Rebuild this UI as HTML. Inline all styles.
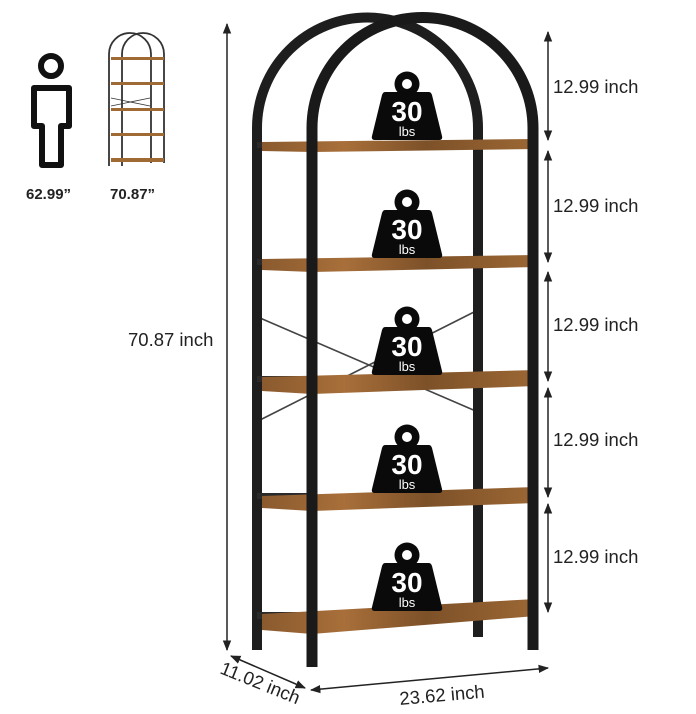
<!DOCTYPE html>
<html><head><meta charset="utf-8"><style>
html,body{margin:0;padding:0;background:#fff;}
svg{display:block;font-family:"Liberation Sans",sans-serif;}
</style></head><body>
<svg width="696" height="714" viewBox="0 0 696 714" xmlns="http://www.w3.org/2000/svg">
<defs>
<linearGradient id="wood" x1="0" y1="0" x2="1" y2="0">
<stop offset="0" stop-color="#8a5a2e"/><stop offset="0.3" stop-color="#a86f3a"/><stop offset="0.6" stop-color="#7d5128"/><stop offset="1" stop-color="#9c6734"/>
</linearGradient>
<marker id="ar" viewBox="0 0 10 10" refX="9" refY="5" markerWidth="7" markerHeight="7" orient="auto-start-reverse"><path d="M0,1 L10,5 L0,9 z" fill="#222"/></marker>
<g id="wt">
<circle cx="0" cy="0" r="12.5" fill="#0a0a0a"/><circle cx="0" cy="0" r="5" fill="#fff"/>
<path d="M-22,8 Q-24,8 -25,11 L-35,52 Q-36,56 -32,56 L32,56 Q36,56 35,52 L25,11 Q24,8 22,8 Z" fill="#0a0a0a"/>
<text x="0" y="37" font-size="28" font-weight="bold" fill="#fff" text-anchor="middle">30</text>
<text x="0" y="52" font-size="13" fill="#fff" text-anchor="middle">lbs</text>
</g>
</defs>

<!-- small icons -->
<circle cx="51" cy="66" r="10" fill="none" stroke="#111" stroke-width="6"/>
<path d="M34,88 L69,88 L69,126 L61,126 L61,165 L42,165 L42,126 L34,126 Z" fill="none" stroke="#111" stroke-width="6" stroke-linejoin="round"/>
<g stroke="#333" stroke-width="1.8" fill="none">
<path d="M109,166 L109,54 A21,21 0 0 1 151,54 L151,163"/>
<path d="M122,166 L122,54 A21,21 0 0 1 164,54 L164,163"/>
<line x1="111" y1="98" x2="150" y2="106" stroke-width="0.8"/>
<line x1="111" y1="106" x2="150" y2="98" stroke-width="0.8"/>
</g>
<g fill="#a06a35">
<rect x="111" y="57" width="53" height="3"/><rect x="111" y="82" width="53" height="3"/><rect x="111" y="108" width="53" height="3"/><rect x="111" y="133" width="53" height="3"/><rect x="111" y="158" width="53" height="4"/>
</g>
<text x="26" y="199" font-size="15" font-weight="bold" fill="#222">62.99”</text>
<text x="110" y="199" font-size="15" font-weight="bold" fill="#222">70.87”</text>

<!-- x brace -->
<g stroke="#444" stroke-width="1.6">
<line x1="260" y1="318" x2="478" y2="412"/>
<line x1="260" y1="420" x2="478" y2="310"/>
</g>

<!-- back arch -->
<path d="M257,650 L257,128 A110.5,110.5 0 0 1 478,128 L478,637" fill="none" stroke="#1e1e1e" stroke-width="10"/>
<g fill="#2a2a2a">
<rect x="257" y="142" width="55" height="6"/><rect x="257" y="259" width="55" height="6"/><rect x="257" y="376" width="55" height="6"/><rect x="257" y="493" width="55" height="6"/><rect x="257" y="612" width="55" height="7"/>
</g>

<!-- shelves -->
<g fill="url(#wood)">
<polygon points="262,142 536,139 536,149 312,152 262,151"/>
<polygon points="262,259 536,255 536,267 312,272 262,270"/>
<polygon points="262,377 536,370 536,386 312,394 262,391"/>
<polygon points="262,496 536,487 536,503 312,511 262,508"/>
<polygon points="262,614 536,599 536,616 312,634 262,630"/>
</g>

<!-- front arch -->
<path d="M312,667 L312,128 A110.5,110.5 0 0 1 533,128 L533,650" fill="none" stroke="#1a1a1a" stroke-width="11"/>

<!-- weights -->
<use href="#wt" x="407" y="84"/>
<use href="#wt" x="407" y="202"/>
<use href="#wt" x="407" y="319"/>
<use href="#wt" x="407" y="437"/>
<use href="#wt" x="407" y="555"/>

<!-- dimensions -->
<g stroke="#222" stroke-width="1.5" fill="none">
<line x1="227" y1="24" x2="227" y2="650" marker-start="url(#ar)" marker-end="url(#ar)"/>
<line x1="548" y1="32" x2="548" y2="140" marker-start="url(#ar)" marker-end="url(#ar)"/>
<line x1="548" y1="151" x2="548" y2="262" marker-start="url(#ar)" marker-end="url(#ar)"/>
<line x1="548" y1="272" x2="548" y2="381" marker-start="url(#ar)" marker-end="url(#ar)"/>
<line x1="548" y1="388" x2="548" y2="497" marker-start="url(#ar)" marker-end="url(#ar)"/>
<line x1="548" y1="504" x2="548" y2="612" marker-start="url(#ar)" marker-end="url(#ar)"/>
<line x1="231" y1="656" x2="305" y2="688" marker-start="url(#ar)" marker-end="url(#ar)"/>
<line x1="311" y1="690" x2="548" y2="668" marker-start="url(#ar)" marker-end="url(#ar)"/>
</g>
<g font-size="18.5" fill="#222">
<text x="128" y="346">70.87 inch</text>
<text x="553" y="93">12.99 inch</text>
<text x="553" y="212">12.99 inch</text>
<text x="553" y="331">12.99 inch</text>
<text x="553" y="446">12.99 inch</text>
<text x="553" y="563">12.99 inch</text>
<text x="0" y="0" transform="translate(219,673) rotate(22)">11.02 inch</text>
<text x="0" y="0" transform="translate(400,705) rotate(-5)">23.62 inch</text>
</g>
</svg>
</body></html>
